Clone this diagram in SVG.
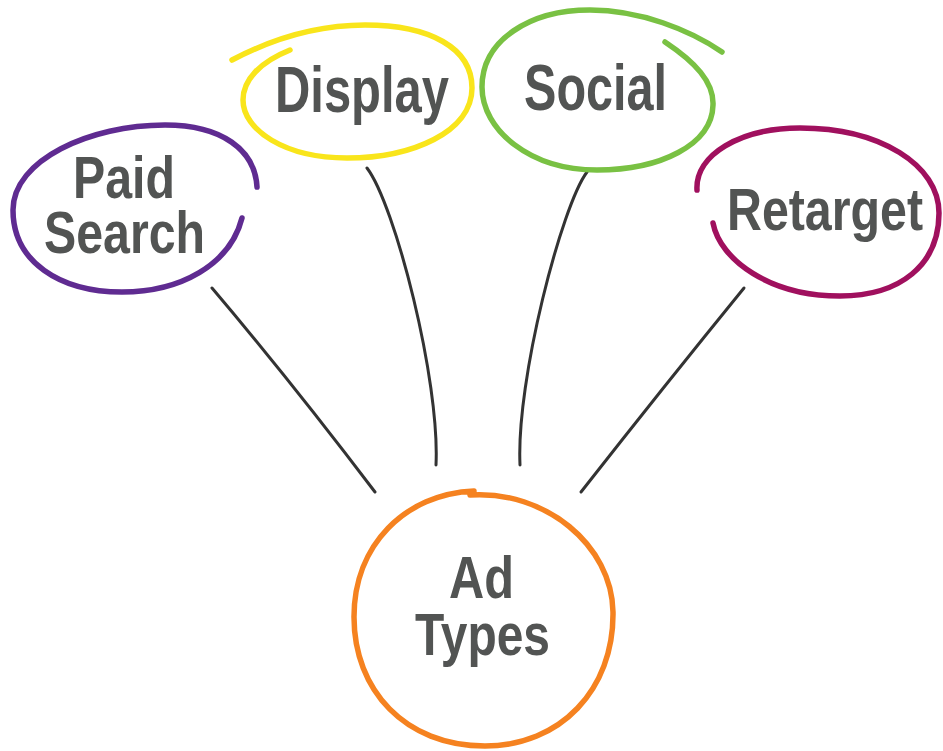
<svg xmlns="http://www.w3.org/2000/svg" width="943" height="751" viewBox="0 0 943 751">
<style>
.lbl{font-family:"Liberation Sans Narrow","Liberation Sans",Arial,sans-serif;font-weight:bold;fill:#525453;}
.ring{fill:none;stroke-linecap:round;stroke-linejoin:round;stroke-width:5.5;}
.conn{fill:none;stroke:#333333;stroke-width:3;stroke-linecap:round;}
</style>
<rect x="0" y="0" width="943" height="751" fill="#ffffff"/>
<g id="connectors">
<path class="conn" d="M212,288 Q290,380 375,492"/>
<path class="conn" d="M367,168 C395,205 440,380 436,465"/>
<path class="conn" d="M587,172 C562,205 516,380 520,465"/>
<path class="conn" d="M744,288 Q665,385 581,492"/>
</g>
<g id="paid-search">
<path class="ring" stroke="#5f2b91" d="M257,187 C255,150 222,125 165,125 C90,125 13,160 13,210 C13,262 60,292 122,292 C180,292 230,265 242,218"/>
<text class="lbl" font-size="60" x="73" y="198" textLength="102" lengthAdjust="spacingAndGlyphs">Paid</text>
<text class="lbl" font-size="60" x="44" y="253" textLength="161" lengthAdjust="spacingAndGlyphs">Search</text>
</g>
<g id="display">
<path class="ring" stroke="#f9e51b" d="M232,60 C270,40 315,25 365,25 C430,25 472,48 472,88 C472,132 412,158 347,158 C285,158 243,130 243,100 C243,80 260,62 290,50"/>
<text class="lbl" font-size="65" x="275" y="112" textLength="174" lengthAdjust="spacingAndGlyphs">Display</text>
</g>
<g id="social">
<path class="ring" stroke="#79c143" d="M665,42 C695,62 714,82 713,105 C712,145 660,170 597,170 C530,170 482,130 482,87 C482,40 530,10 590,10 C640,10 690,30 722,52"/>
<text class="lbl" font-size="65" x="524" y="110" textLength="143" lengthAdjust="spacingAndGlyphs">Social</text>
</g>
<g id="retarget">
<path class="ring" stroke="#a0105e" d="M697,190 C695,155 740,128 800,128 C880,128 939,165 939,213 C939,265 900,296 840,296 C770,296 720,260 713,223"/>
<text class="lbl" font-size="60" x="727" y="230" textLength="196" lengthAdjust="spacingAndGlyphs">Retarget</text>
</g>
<g id="ad-types">
<path class="ring" stroke="#f58220" stroke-width="8" d="M470,495 C545,490 612,545 613,612 C614,690 560,746 485,746 C405,746 354,690 354,617 C354,545 405,494 474,491"/>
<text class="lbl" font-size="60" x="449" y="598" textLength="65" lengthAdjust="spacingAndGlyphs">Ad</text>
<text class="lbl" font-size="60" x="415" y="655" textLength="135" lengthAdjust="spacingAndGlyphs">Types</text>
</g>
</svg>
